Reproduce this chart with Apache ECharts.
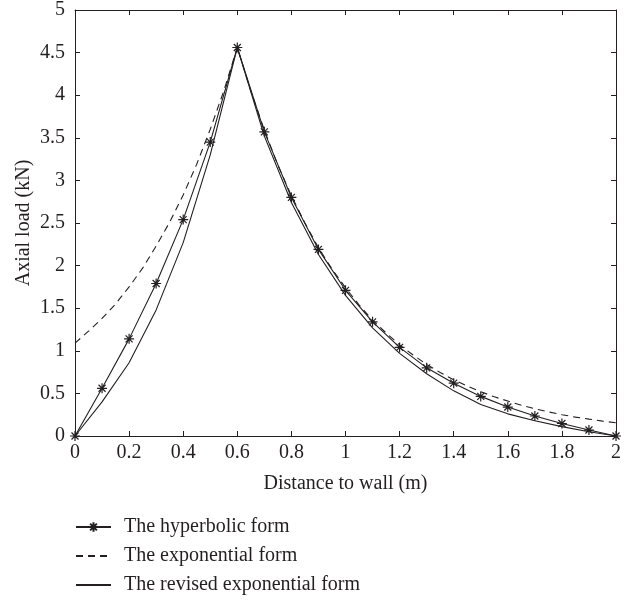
<!DOCTYPE html>
<html>
<head>
<meta charset="utf-8">
<script src="https://cdn.jsdelivr.net/npm/echarts@6/dist/echarts.min.js"></script>
<style>
  html, body { margin: 0; padding: 0; background: #fff; }
  #chart { width: 624px; height: 601px; }
</style>
</head>
<body>
<div id="chart"></div>
<script>
// distances (m) and loads (kN)
const xHyper = [0, 0.1, 0.2, 0.3, 0.4, 0.5, 0.6, 0.7, 0.8, 0.9, 1.0, 1.1, 1.2, 1.3, 1.4, 1.5, 1.6, 1.7, 1.8, 1.9, 2.0]
const yHyper = [0, 0.56, 1.14, 1.79, 2.54, 3.45, 4.56, 3.57, 2.80, 2.19, 1.71, 1.34, 1.04, 0.80, 0.62, 0.465, 0.34, 0.235, 0.147, 0.07, 0]

const xExp = [0, 0.05, 0.1, 0.15, 0.2, 0.25, 0.3, 0.35, 0.4, 0.45, 0.5, 0.55, 0.6,
  0.65, 0.7, 0.75, 0.8, 0.85, 0.9, 0.95, 1.0, 1.05, 1.1, 1.15, 1.2, 1.25, 1.3, 1.35,
  1.4, 1.45, 1.5, 1.55, 1.6, 1.65, 1.7, 1.75, 1.8, 1.85, 1.9, 1.95, 2.0]
const yExp = [1.09, 1.23, 1.38, 1.55, 1.75, 1.97, 2.23, 2.51, 2.83, 3.19, 3.6, 4.05, 4.56,
  4.05, 3.59, 3.18, 2.82, 2.50, 2.21, 1.96, 1.74, 1.54, 1.36, 1.21, 1.07, 0.95, 0.84, 0.745,
  0.66, 0.585, 0.52, 0.46, 0.41, 0.36, 0.32, 0.283, 0.25, 0.222, 0.198, 0.175, 0.155]

const xRev = xHyper
const yRev = [0, 0.40, 0.86, 1.48, 2.27, 3.30, 4.56, 3.52, 2.74, 2.13, 1.65, 1.27, 0.97, 0.73, 0.53, 0.37, 0.26, 0.18, 0.11, 0.05, 0]

const seriesNames = ['The hyperbolic form', 'The exponential form', 'The revised exponential form']

const ink = '#231f20'
const serif = '"Liberation Serif", "DejaVu Serif", serif'
const asterisk = 'path://M5,0L5,10M0,5L10,5M1.5,1.5L8.5,8.5M1.5,8.5L8.5,1.5'

const pairs = (xs, ys) => xs.map((x, i) => [x, ys[i]])

const chart = echarts.init(document.getElementById('chart'))

const axisCommon = {
  type: 'value',
  axisLine: { show: true, onZero: false, lineStyle: { color: ink, width: 1 } },
  axisTick: { show: true, inside: true, length: 5, lineStyle: { color: ink } },
  splitLine: { show: false }
}

chart.setOption({
  animation: false,
  backgroundColor: '#fff',
  textStyle: { fontFamily: serif, color: ink },
  grid: { left: 75, right: 5, top: 5, bottom: 165, containLabel: false },
  xAxis: [
    Object.assign({}, axisCommon, {
      min: 0, max: 2, interval: 0.2,
      name: 'Distance to wall (m)',
      nameLocation: 'middle',
      nameGap: 38,
      nameTextStyle: { fontFamily: serif, fontSize: 20, color: ink },
      axisLabel: { fontFamily: serif, fontSize: 20, color: ink, margin: 7 }
    }),
    Object.assign({}, axisCommon, {
      position: 'top', min: 0, max: 2, interval: 0.2,
      axisLabel: { show: false }
    })
  ],
  yAxis: [
    Object.assign({}, axisCommon, {
      min: 0, max: 5, interval: 0.5,
      name: 'Axial load (kN)',
      nameLocation: 'middle',
      nameGap: 41,
      nameMoveOverlap: false,
      nameTextStyle: { fontFamily: serif, fontSize: 20, color: ink },
      axisLabel: { fontFamily: serif, fontSize: 20, color: ink, margin: 10 }
    }),
    Object.assign({}, axisCommon, {
      position: 'right', min: 0, max: 5, interval: 0.5,
      axisLabel: { show: false }
    })
  ],
  legend: {
    orient: 'vertical',
    left: 75,
    top: 517,
    padding: 0,
    itemWidth: 35,
    itemHeight: 12,
    itemGap: 9,
    textStyle: { fontFamily: serif, fontSize: 20, color: ink, padding: [0, 0, 0, 8] },
    data: [
      { name: seriesNames[0] },
      { name: seriesNames[1], itemStyle: { opacity: 0 } },
      { name: seriesNames[2], itemStyle: { opacity: 0 } }
    ]
  },
  series: [
    {
      name: seriesNames[0],
      type: 'line',
      data: pairs(xHyper, yHyper),
      symbol: asterisk,
      symbolSize: 10,
      showAllSymbol: true,
      lineStyle: { color: ink, width: 1.1 },
      itemStyle: { color: 'none', borderColor: ink, borderWidth: 1.2 },
      z: 3
    },
    {
      name: seriesNames[1],
      type: 'line',
      data: pairs(xExp, yExp),
      symbol: 'none',
      lineStyle: { color: ink, width: 1.1, type: [7, 5] },
      itemStyle: { color: ink },
      z: 2
    },
    {
      name: seriesNames[2],
      type: 'line',
      data: pairs(xRev, yRev),
      symbol: 'none',
      lineStyle: { color: ink, width: 1.1 },
      itemStyle: { color: ink },
      z: 2
    }
  ]
})
</script>
</body>
</html>
